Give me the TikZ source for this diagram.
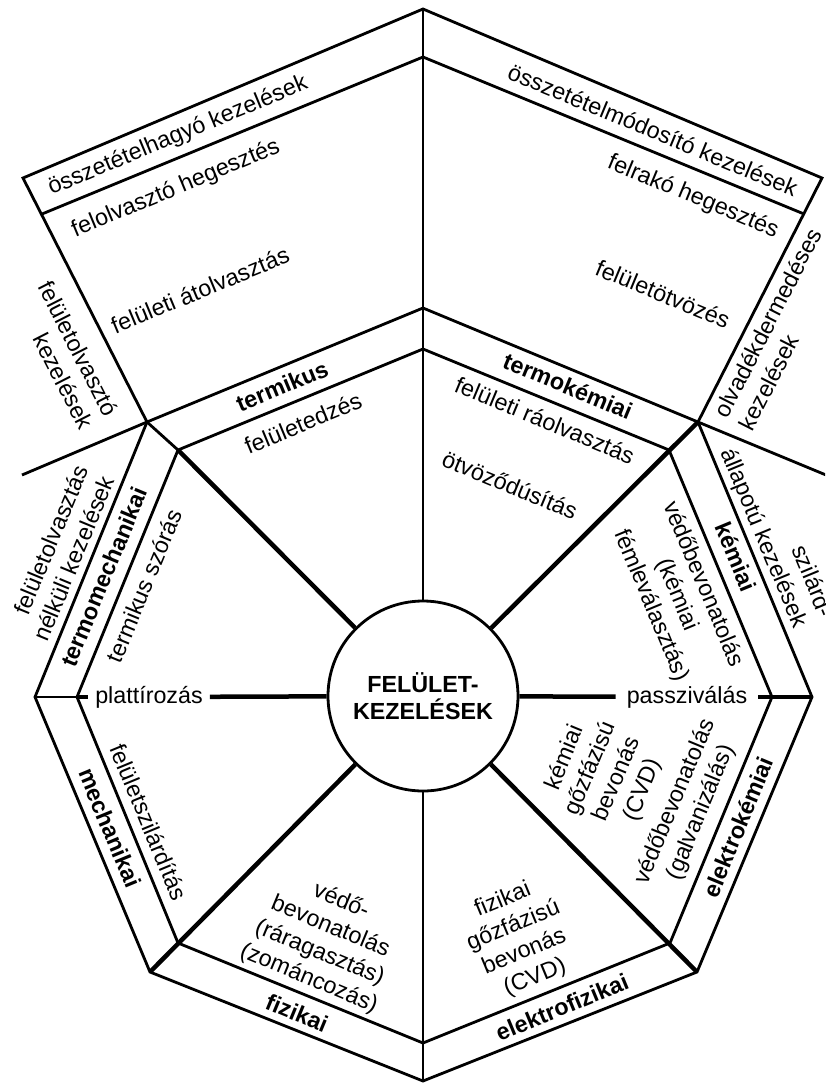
\documentclass[tikz,border=0pt]{standalone}
\usepackage{fontspec}
\setmainfont{Liberation Sans}
\begin{document}
\begin{tikzpicture}[x=1pt,y=-1pt,
  line/.style={line width=2.8pt, line join=miter},
  spoke/.style={line width=4.5pt},
  lbl/.style={font=\fontsize{23.3}{28}\selectfont, inner sep=0pt, align=center},
  blbl/.style={font=\fontsize{23.3}{28}\selectfont\bfseries, inner sep=0pt, align=center},
]
\fill[white] (0,0) rectangle (825,1084);
\useasboundingbox (0,0) rectangle (825,1084);
\clip (0,0) rectangle (825,1084);
% coordinates
\coordinate (T0) at (423,9);
\coordinate (T1) at (423,57);
\coordinate (L0) at (23,178);
\coordinate (L1) at (42,214);
\coordinate (R0) at (822,178);
\coordinate (R1) at (804,214);
\coordinate (Xl) at (22,475);
\coordinate (Xr) at (826,475);
\coordinate (Ot) at (423,308);
\coordinate (Oul) at (147,422);
\coordinate (Ol) at (35,697);
\coordinate (Oll) at (150,972);
\coordinate (Ob) at (423,1081);
\coordinate (Olr) at (697,972);
\coordinate (Or) at (812,697);
\coordinate (Our) at (698,422);
\coordinate (It) at (423,349);
\coordinate (Iul) at (178,450);
\coordinate (Il) at (77,697);
\coordinate (Ill) at (178,943);
\coordinate (Ib) at (423,1043);
\coordinate (Ilr) at (670,943);
\coordinate (Ir) at (772,697);
\coordinate (Iur) at (669,450);
% centre
\node[circle, draw, line width=2.8pt, minimum size=190pt, inner sep=0pt,
  font=\fontsize{23.3}{27}\selectfont\bfseries, align=center] (circ) at (423,696) {FELÜLET-\\KEZELÉSEK};
% texts
\node[lbl, rotate=22.5] (oszhagy) at (178,136) {összetételhagyó kezelések};
\node[lbl, rotate=22.5] (felolv) at (176,189) {felolvasztó hegesztés};
\node[lbl, rotate=22.5] (feluat) at (200,290) {felületi átolvasztás};
\node[blbl, rotate=22.5] (termikus) at (282,386) {termikus};
\node[lbl, rotate=22.5] (feledz) at (303,423) {felületedzés};
\node[lbl, rotate=-22.5] (oszmod) at (653,130) {összetételmódosító kezelések};
\node[lbl, rotate=-22.5] (felrak) at (693,197) {felrakó hegesztés};
\node[lbl, rotate=-22.5] (felotv) at (663,294) {felületötvözés};
\node[blbl, rotate=-22.5] (termokem) at (568,386) {termokémiai};
\node[lbl, rotate=-22.5] (felrao) at (545,420) {felületi ráolvasztás};
\node[lbl, rotate=-22.5] (otvoz) at (510,485) {ötvöződúsítás};
\node[lbl, align=right, rotate=-63] (felolvk) at (66,355) {felületolvasztó\\kezelések};
\node[lbl, align=left, rotate=63] (olvad) at (780,329) {olvadékdermedéses\\kezelések};
\node[lbl, align=right, rotate=67.5] (nelk) at (60.6,553) {felületolvasztás\\nélküli kezelések};
\node[lbl, align=right, rotate=-67.5] (szil) at (776,533) {szilárd-\\állapotú kezelések};
\node[blbl, rotate=67.5] (termomech) at (104,577) {termomechanikai};
\node[lbl, rotate=67.5] (termszor) at (144,586) {termikus szórás};
\node[lbl, inner xsep=7pt] (plat) at (149,697) {plattírozás};
\node[lbl, rotate=-67.5] (felszil) at (149,822) {felületszilárdítás};
\node[blbl, rotate=-67.5] (mech) at (110,828) {mechanikai};
\node[lbl, rotate=-22.5] (vedo) at (325,940) {védő-\\bevonatolás\\(ráragasztás)\\(zománcozás)};
\node[blbl, rotate=-22.5] (fiz) at (297,1013) {fizikai};
\node[blbl, rotate=22.5] (elfiz) at (562,1007) {elektrofizikai};
\node[lbl, rotate=22.5] (fizgoz) at (519,939) {fizikai\\gőzfázisú\\bevonás\\(CVD)};
\node[blbl, rotate=67.5] (elkem) at (738,827) {elektrokémiai};
\node[lbl, rotate=67.5] (kemgoz) at (604,774) {kémiai\\gőzfázisú\\bevonás\\(CVD)};
\node[lbl, rotate=67.5] (galv) at (688,807) {védőbevonatolás\\(galvanizálás)};
\node[lbl, inner xsep=11pt] (pass) at (687,697) {passziválás};
\node[blbl, rotate=-67.5] (kem) at (736,557) {kémiai};
\node[lbl, rotate=-67.5] (fem) at (677,595) {védőbevonatolás\\(kémiai\\fémleválasztás)};
% frame lines
\draw[line] (Ot) -- (Oul) -- (Ol) -- (Oll) -- (Ob) -- (Olr) -- (Or) -- (Our) -- cycle;
\draw[line] (It) -- (Iul) -- (Il) -- (Ill) -- (Ib) -- (Ilr) -- (Ir) -- (Iur) -- cycle;
\draw[line] (Xl) -- (Oul);
\draw[line] (Our) -- (Xr);
\draw[line] (Oul) -- (L0) -- (T0) -- (R0) -- (Our);
\draw[line] (L1) -- (T1) -- (R1);
% spokes
\draw[line] (T0) -- (circ);
\draw[line] (circ) -- (Ob);
\draw[spoke] (circ) -- (Iul);
\draw[line] (Iul) -- (Oul);
\draw[spoke] (circ) -- (Our);
\draw[spoke] (circ) -- (Oll);
\draw[spoke] (circ) -- (Olr);
\draw[line] (Ol) -- (Il);
\draw[spoke] (Il) -- (plat);
\draw[spoke] (plat) -- (circ);
\draw[spoke] (circ) -- (pass);
\draw[spoke] (pass) -- (Or);
\end{tikzpicture}
\end{document}
